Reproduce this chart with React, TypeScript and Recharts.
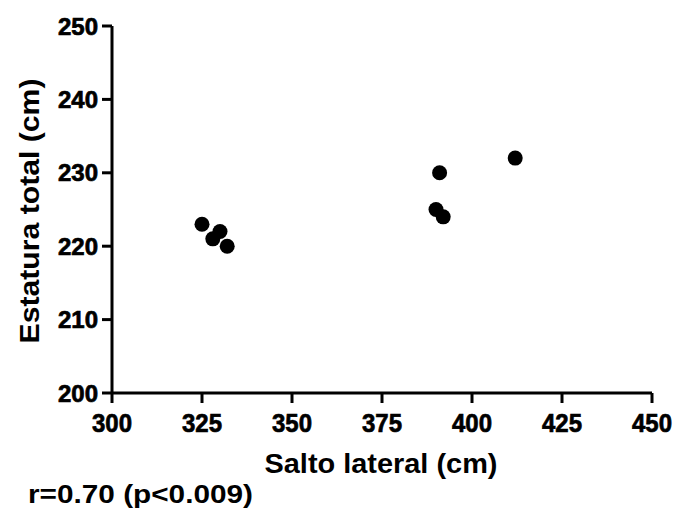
import { ScatterChart, Scatter, XAxis, YAxis, Label } from "recharts";

const saltoLateral = [325, 328, 330, 332, 390, 391, 392, 412];
const estaturaTotal = [223, 221, 222, 220, 225, 230, 224, 232];
const xTicks = [300, 325, 350, 375, 400, 425, 450];
const yTicks = [200, 210, 220, 230, 240, 250];

const points = saltoLateral.map((x, i) => ({ x, y: estaturaTotal[i] }));

const FONT = "Liberation Sans";
const axisStroke = { stroke: "#000", strokeWidth: 3 };

const Dot = (props: any) => <circle cx={props.cx} cy={props.cy} r={7.5} fill="#000" />;

function XTick(props: any) {
  const { x, y, payload } = props;
  return (
    <g transform={`translate(${x},${y})`}>
      <text
        x={0}
        y={27}
        textAnchor="middle"
        fontSize={26}
        fontWeight="bold"
        fontFamily={FONT}
        fill="#000"
        stroke="#000"
        strokeWidth={0.7}
        textLength={40}
        lengthAdjust="spacingAndGlyphs"
      >
        {String(payload.value)}
      </text>
    </g>
  );
}

function YTick(props: any) {
  const { x, y, payload } = props;
  return (
    <g transform={`translate(${x},${y})`}>
      <text
        x={0}
        y={8.5}
        textAnchor="end"
        fontSize={24}
        fontWeight="bold"
        fontFamily={FONT}
        fill="#000"
        stroke="#000"
        strokeWidth={0.7}
      >
        {String(payload.value)}
      </text>
    </g>
  );
}

export default function App() {
  return (
    <div style={{ position: "absolute", left: 0, top: 0, width: 675, height: 513, background: "#fff" }}>
      <ScatterChart width={675} height={513} margin={{ top: 26, right: 23, bottom: 80, left: 50 }}>
        <XAxis
          type="number"
          dataKey="x"
          domain={[300, 450]}
          ticks={xTicks}
          axisLine={axisStroke}
          tickLine={axisStroke}
          tickSize={10}
          tick={<XTick />}
          height={40}
        >
          <Label
            content={() => (
              <text
                x={381}
                y={473}
                textAnchor="middle"
                fontSize={28}
                fontWeight={700}
                fontFamily={FONT}
                fill="#000"
                textLength={233}
                lengthAdjust="spacingAndGlyphs"
              >
                Salto lateral (cm)
              </text>
            )}
          />
        </XAxis>
        <YAxis
          type="number"
          dataKey="y"
          domain={[200, 250]}
          ticks={yTicks}
          axisLine={axisStroke}
          tickLine={axisStroke}
          tickSize={10}
          tickMargin={4}
          tick={<YTick />}
          width={62}
        >
          <Label
            content={() => (
              <text
                x={39}
                y={211}
                transform="rotate(-90 39 211)"
                textAnchor="middle"
                fontSize={28}
                fontWeight={700}
                fontFamily={FONT}
                fill="#000"
                textLength={265}
                lengthAdjust="spacingAndGlyphs"
              >
                Estatura total (cm)
              </text>
            )}
          />
        </YAxis>
        <Scatter data={points} shape={Dot} isAnimationActive={false} />
      </ScatterChart>
      <svg width={675} height={513} style={{ position: "absolute", left: 0, top: 0, pointerEvents: "none" }}>
        <text
          x={28}
          y={503}
          fontSize={26}
          fontWeight={700}
          fontFamily={FONT}
          fill="#000"
          textLength={225}
          lengthAdjust="spacingAndGlyphs"
        >
          r=0.70 (p&lt;0.009)
        </text>
      </svg>
    </div>
  );
}
